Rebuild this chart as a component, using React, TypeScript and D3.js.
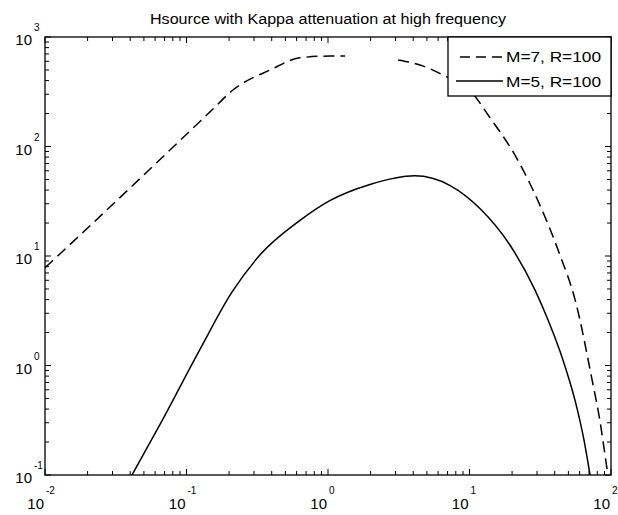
import React from "react";
import * as d3 from "d3";

const titleText = "Hsource with Kappa attenuation at high frequency";
const m7Label = "M=7, R=100";
const m5Label = "M=5, R=100";

// M=7 (dashed); NaN marks the gap visible in the reference
const m7Freq = [0.01, 0.02, 0.15, 0.213, 0.39, 0.63, 1.03, 1.32, 2.0, 3.13, 4.47, 6.7, 10, 14, 21, 31.5, 43.6, 55.7, 73.5, 83.6, 93.8, 97];
const m7Amp = [7.8, 18, 213, 328, 500, 645, 670, 670, NaN, 617, 555, 440, 328, 182, 83, 29, 10.2, 4.0, 0.74, 0.31, 0.113, 0.085];

// M=5 (solid)
const m5Freq = [0.0412, 0.065, 0.124, 0.21, 0.33, 0.63, 1.03, 1.98, 4.1, 7.3, 11.9, 19.3, 29, 35.9, 45.8, 55.7, 64.4, 71.1];
const m5Amp = [0.1, 0.29, 1.39, 4.7, 10.2, 21, 32, 45, 54, 44, 27, 12.6, 4.9, 2.6, 1.12, 0.48, 0.209, 0.1];

const xDecades = [-2, -1, 0, 1, 2];
const yDecades = [-1, 0, 1, 2, 3];

const W = 618;
const H = 515;
const L = 45, R = 611, T = 37, B = 475;
const FONT = "'Liberation Sans', Arial, Helvetica, sans-serif";

export default function App() {
  const x = d3.scaleLog().domain([0.01, 100]).range([L, R]);
  const y = d3.scaleLog().domain([0.1, 1000]).range([B, T]);

  const line = d3
    .line<[number, number]>()
    .defined((d) => Number.isFinite(d[1]))
    .x((d) => x(d[0]))
    .y((d) => y(d[1]))
    .curve(d3.curveMonotoneX);

  const m7 = m7Freq.map((f, i) => [f, m7Amp[i]] as [number, number]);
  const m5 = m5Freq.map((f, i) => [f, m5Amp[i]] as [number, number]);

  const xTicks: { v: number; major: boolean }[] = [];
  for (let d = -2; d < 2; d++) for (let k = 1; k <= 9; k++) xTicks.push({ v: k * Math.pow(10, d), major: k === 1 });
  xTicks.push({ v: 100, major: true });
  const yTicks: { v: number; major: boolean }[] = [];
  for (let d = -1; d < 3; d++) for (let k = 1; k <= 9; k++) yTicks.push({ v: k * Math.pow(10, d), major: k === 1 });
  yTicks.push({ v: 1000, major: true });

  const tl = (major: boolean) => (major ? 6 : 4);

  return (
    <svg width={W} height={H} style={{ position: "absolute", left: 0, top: 0, background: "#fff" }} fontFamily={FONT}>
      <rect x={0} y={0} width={W} height={H} fill="#fff" />
      <defs>
        <clipPath id="plotclip">
          <rect x={L} y={T} width={R - L} height={B - T} />
        </clipPath>
      </defs>
      <text x={(L + R) / 2} y={24} textAnchor="middle" fontSize={15.5} fill="#000" textLength={356} lengthAdjust="spacingAndGlyphs">
        {titleText}
      </text>

      {/* ticks */}
      {xTicks.map((t, i) => (
        <g key={"xt" + i} stroke="#000" strokeWidth={1}>
          <line x1={x(t.v)} x2={x(t.v)} y1={B} y2={B - tl(t.major)} />
          <line x1={x(t.v)} x2={x(t.v)} y1={T} y2={T + tl(t.major)} />
        </g>
      ))}
      {yTicks.map((t, i) => (
        <g key={"yt" + i} stroke="#000" strokeWidth={1}>
          <line x1={L} x2={L + tl(t.major)} y1={y(t.v)} y2={y(t.v)} />
          <line x1={R} x2={R - tl(t.major)} y1={y(t.v)} y2={y(t.v)} />
        </g>
      ))}

      {/* tick labels */}
      {xDecades.map((d) => (
        <g key={"xl" + d} fill="#000">
          <text x={x(Math.pow(10, d)) - 1} y={509} textAnchor="end" fontSize={15}>10</text>
          <text x={x(Math.pow(10, d)) + 1} y={494} textAnchor="start" fontSize={10}>{d}</text>
        </g>
      ))}
      {yDecades.map((d) => (
        <g key={"yl" + d} fill="#000">
          <text x={32} y={y(Math.pow(10, d)) + 8} textAnchor="end" fontSize={15}>10</text>
          <text x={34} y={y(Math.pow(10, d)) - 6} textAnchor="start" fontSize={10}>{d}</text>
        </g>
      ))}

      {/* curves */}
      <g clipPath="url(#plotclip)" fill="none" stroke="#000" strokeWidth={1.5}>
        <path d={line(m7) || ""} strokeDasharray="11,6" />
        <path d={line(m5) || ""} />
      </g>

      {/* frame */}
      <rect x={L} y={T} width={R - L} height={B - T} fill="none" stroke="#000" strokeWidth={1.3} />

      {/* legend */}
      <g>
        <rect x={448} y={T} width={R - 448} height={59} fill="#fff" stroke="#000" strokeWidth={1.3} />
        <line x1={460} x2={503} y1={57} y2={57} stroke="#000" strokeWidth={1.5} strokeDasharray="10,6" />
        <line x1={456} x2={503} y1={81} y2={81} stroke="#000" strokeWidth={1.5} />
        <text x={506} y={62} fontSize={15.5} fill="#000" textLength={95} lengthAdjust="spacingAndGlyphs">{m7Label}</text>
        <text x={506} y={87} fontSize={15.5} fill="#000" textLength={95} lengthAdjust="spacingAndGlyphs">{m5Label}</text>
      </g>
    </svg>
  );
}
